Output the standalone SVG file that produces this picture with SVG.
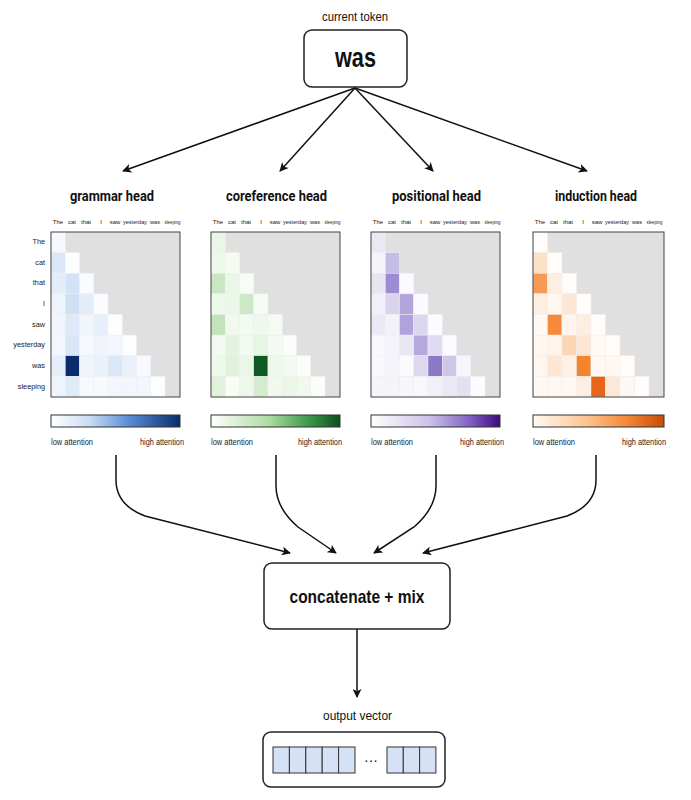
<svg xmlns="http://www.w3.org/2000/svg" width="691" height="800" viewBox="0 0 691 800">
<defs>
<style>
text{font-family:"Liberation Sans","Roboto",Arial,sans-serif;fill:#111}
.t{font-family:"Roboto","Liberation Sans",sans-serif;font-weight:bold;font-size:15px;text-anchor:middle}
.cl{font-size:6px;text-anchor:middle;fill:#222}
.rl{font-size:7.3px;text-anchor:end;fill:#222}
.lg{font-size:8.5px;fill:#222}
.c{stroke:#f0f0f0;stroke-width:0.5}
.bg{fill:#e0e0e0}
.fr{fill:none;stroke:#444;stroke-width:1}
.box{fill:#fff;stroke:#222;stroke-width:1.5}
.ln{fill:none;stroke:#111;stroke-width:1.5}
.bar{stroke:#333;stroke-width:1}
.cell{fill:#d5e1f5;stroke:#333;stroke-width:1}
</style>
<marker id="ah" viewBox="0 0 10 10" refX="9" refY="5" markerWidth="10" markerHeight="9" orient="auto" markerUnits="userSpaceOnUse">
<path d="M0,0 L10,5 L0,10 L2.5,5 z" fill="#111"/>
</marker>
<linearGradient id="gB" x1="0" x2="1" y1="0" y2="0"><stop offset="0" stop-color="#ffffff"/><stop offset="0.3" stop-color="#c9dcf2"/><stop offset="0.6" stop-color="#5a8fd5"/><stop offset="1" stop-color="#082d6c"/></linearGradient>
<linearGradient id="gG" x1="0" x2="1" y1="0" y2="0"><stop offset="0" stop-color="#ffffff"/><stop offset="0.45" stop-color="#acdca4"/><stop offset="0.75" stop-color="#3f9a4b"/><stop offset="1" stop-color="#0c4f1e"/></linearGradient>
<linearGradient id="gP" x1="0" x2="1" y1="0" y2="0"><stop offset="0" stop-color="#ffffff"/><stop offset="0.45" stop-color="#cdc2e8"/><stop offset="0.75" stop-color="#8566c4"/><stop offset="1" stop-color="#3c0a7e"/></linearGradient>
<linearGradient id="gO" x1="0" x2="1" y1="0" y2="0"><stop offset="0" stop-color="#fffaf5"/><stop offset="0.4" stop-color="#fdc592"/><stop offset="0.7" stop-color="#f58b3b"/><stop offset="1" stop-color="#c84c08"/></linearGradient>
</defs>
<rect width="691" height="800" fill="#ffffff"/>

<g id="current-token">
<text x="355" y="21" font-size="12" text-anchor="middle" textLength="66" lengthAdjust="spacingAndGlyphs">current token</text>
<rect class="box" x="304" y="30" width="103" height="57" rx="8"/>
<text x="355.5" y="67" font-family="Roboto, 'Liberation Sans', sans-serif" font-weight="bold" font-size="27" text-anchor="middle" textLength="41" lengthAdjust="spacingAndGlyphs">was</text>
</g>

<g id="connectors">
<line class="ln" x1="355" y1="88" x2="123" y2="171" marker-end="url(#ah)"/>
<line class="ln" x1="355" y1="88" x2="280" y2="171" marker-end="url(#ah)"/>
<line class="ln" x1="355" y1="88" x2="433" y2="171" marker-end="url(#ah)"/>
<line class="ln" x1="355" y1="88" x2="587" y2="171" marker-end="url(#ah)"/>
<path class="ln" d="M116,455 V480 Q116,505 145,516 L290,553" marker-end="url(#ah)"/>
<path class="ln" d="M276,455 V486 Q276,508 298,527 L336,553" marker-end="url(#ah)"/>
<path class="ln" d="M436,455 V486 Q436,508 414,527 L374,553" marker-end="url(#ah)"/>
<path class="ln" d="M596,455 V480 Q596,505 567,516 L423,553" marker-end="url(#ah)"/>
<line class="ln" x1="357" y1="629" x2="357" y2="697" marker-end="url(#ah)"/>
</g>

<g id="row-labels">
<text class="rl" x="45" y="244">The</text>
<text class="rl" x="45" y="265">cat</text>
<text class="rl" x="45" y="285">that</text>
<text class="rl" x="45" y="306">I</text>
<text class="rl" x="45" y="327">saw</text>
<text class="rl" x="45" y="347">yesterday</text>
<text class="rl" x="45" y="368">was</text>
<text class="rl" x="45" y="389">sleeping</text>
</g>

<g id="grammar-head">
<text class="t" x="112" y="201" textLength="84" lengthAdjust="spacingAndGlyphs">grammar head</text>
<g transform="translate(51,232)">
<text class="cl" x="7" y="-8">The</text><text class="cl" x="21" y="-8">cat</text><text class="cl" x="35" y="-8">that</text><text class="cl" x="50" y="-8">I</text><text class="cl" x="64" y="-8">saw</text><text class="cl" x="84" y="-8" textLength="24" lengthAdjust="spacingAndGlyphs">yesterday</text><text class="cl" x="104" y="-8" textLength="10" lengthAdjust="spacingAndGlyphs">was</text><text class="cl" x="121.5" y="-8" textLength="16" lengthAdjust="spacingAndGlyphs">sleeping</text>
<rect class="bg" width="129" height="165"/>
<rect class="c" x="0" y="0" width="14.25" height="20.63" fill="#f5f9fe"/>
<rect class="c" x="0" y="20.63" width="14.25" height="20.63" fill="#dce8f7"/><rect class="c" x="14.25" y="20.63" width="14.25" height="20.63" fill="#fbfdff"/>
<rect class="c" x="0" y="41.25" width="14.25" height="20.63" fill="#e3edf9"/><rect class="c" x="14.25" y="41.25" width="14.25" height="20.63" fill="#d3e2f5"/><rect class="c" x="28.5" y="41.25" width="14.25" height="20.63" fill="#f8fbff"/>
<rect class="c" x="0" y="61.88" width="14.25" height="20.63" fill="#eef4fc"/><rect class="c" x="14.25" y="61.88" width="14.25" height="20.63" fill="#cfdff4"/><rect class="c" x="28.5" y="61.88" width="14.25" height="20.63" fill="#e3edf9"/><rect class="c" x="42.75" y="61.88" width="14.25" height="20.63" fill="#fafcff"/>
<rect class="c" x="0" y="82.5" width="14.25" height="20.63" fill="#f1f6fd"/><rect class="c" x="14.25" y="82.5" width="14.25" height="20.63" fill="#dde9f8"/><rect class="c" x="28.5" y="82.5" width="14.25" height="20.63" fill="#f1f6fd"/><rect class="c" x="42.75" y="82.5" width="14.25" height="20.63" fill="#e7f0fa"/><rect class="c" x="57" y="82.5" width="14.25" height="20.63" fill="#fbfdff"/>
<rect class="c" x="0" y="103.13" width="14.25" height="20.63" fill="#f2f7fd"/><rect class="c" x="14.25" y="103.13" width="14.25" height="20.63" fill="#d8e6f6"/><rect class="c" x="28.5" y="103.13" width="14.25" height="20.63" fill="#f6f9fe"/><rect class="c" x="42.75" y="103.13" width="14.25" height="20.63" fill="#f0f5fc"/><rect class="c" x="57" y="103.13" width="14.25" height="20.63" fill="#f3f7fd"/><rect class="c" x="71.25" y="103.13" width="14.25" height="20.63" fill="#fbfdff"/>
<rect class="c" x="0" y="123.75" width="14.25" height="20.63" fill="#e6eff9"/><rect class="c" x="14.25" y="123.75" width="14.25" height="20.63" fill="#0a2d6b"/><rect class="c" x="28.5" y="123.75" width="14.25" height="20.63" fill="#f0f5fc"/><rect class="c" x="42.75" y="123.75" width="14.25" height="20.63" fill="#eaf1fb"/><rect class="c" x="57" y="123.75" width="14.25" height="20.63" fill="#dae7f7"/><rect class="c" x="71.25" y="123.75" width="14.25" height="20.63" fill="#e8f0fa"/><rect class="c" x="85.5" y="123.75" width="14.25" height="20.63" fill="#f7faff"/>
<rect class="c" x="0" y="144.38" width="14.25" height="20.63" fill="#eef4fc"/><rect class="c" x="14.25" y="144.38" width="14.25" height="20.63" fill="#e0ebf8"/><rect class="c" x="28.5" y="144.38" width="14.25" height="20.63" fill="#f6f9fe"/><rect class="c" x="42.75" y="144.38" width="14.25" height="20.63" fill="#f6f9fe"/><rect class="c" x="57" y="144.38" width="14.25" height="20.63" fill="#f3f7fd"/><rect class="c" x="71.25" y="144.38" width="14.25" height="20.63" fill="#f3f7fd"/><rect class="c" x="85.5" y="144.38" width="14.25" height="20.63" fill="#f3f7fd"/><rect class="c" x="99.75" y="144.38" width="14.25" height="20.63" fill="#fbfdff"/>
<rect class="fr" width="129" height="165"/>
<rect class="bar" x="0" y="183" width="129" height="12" fill="url(#gB)"/>
<text class="lg" x="0" y="213" textLength="42" lengthAdjust="spacingAndGlyphs">low attention</text>
<text class="lg" x="133" y="213" text-anchor="end" textLength="44" lengthAdjust="spacingAndGlyphs">high attention</text>
</g>
</g>

<g id="coreference-head">
<text class="t" x="276.5" y="201" textLength="101" lengthAdjust="spacingAndGlyphs">coreference head</text>
<g transform="translate(211,232)">
<text class="cl" x="7" y="-8">The</text><text class="cl" x="21" y="-8">cat</text><text class="cl" x="35" y="-8">that</text><text class="cl" x="50" y="-8">I</text><text class="cl" x="64" y="-8">saw</text><text class="cl" x="84" y="-8" textLength="24" lengthAdjust="spacingAndGlyphs">yesterday</text><text class="cl" x="104" y="-8" textLength="10" lengthAdjust="spacingAndGlyphs">was</text><text class="cl" x="121.5" y="-8" textLength="16" lengthAdjust="spacingAndGlyphs">sleeping</text>
<rect class="bg" width="129" height="165"/>
<rect class="c" x="0" y="0" width="14.25" height="20.63" fill="#eaf6e6"/>
<rect class="c" x="0" y="20.63" width="14.25" height="20.63" fill="#eef8eb"/><rect class="c" x="14.25" y="20.63" width="14.25" height="20.63" fill="#f5fbf3"/>
<rect class="c" x="0" y="41.25" width="14.25" height="20.63" fill="#c9e7c2"/><rect class="c" x="14.25" y="41.25" width="14.25" height="20.63" fill="#eaf6e6"/><rect class="c" x="28.5" y="41.25" width="14.25" height="20.63" fill="#f7fcf5"/>
<rect class="c" x="0" y="61.88" width="14.25" height="20.63" fill="#eef8eb"/><rect class="c" x="14.25" y="61.88" width="14.25" height="20.63" fill="#ecf7e9"/><rect class="c" x="28.5" y="61.88" width="14.25" height="20.63" fill="#cce8c5"/><rect class="c" x="42.75" y="61.88" width="14.25" height="20.63" fill="#f5fbf3"/>
<rect class="c" x="0" y="82.5" width="14.25" height="20.63" fill="#c2e4ba"/><rect class="c" x="14.25" y="82.5" width="14.25" height="20.63" fill="#f1f9ef"/><rect class="c" x="28.5" y="82.5" width="14.25" height="20.63" fill="#f3faf1"/><rect class="c" x="42.75" y="82.5" width="14.25" height="20.63" fill="#eef8eb"/><rect class="c" x="57" y="82.5" width="14.25" height="20.63" fill="#f5fbf3"/>
<rect class="c" x="0" y="103.13" width="14.25" height="20.63" fill="#f3faf1"/><rect class="c" x="14.25" y="103.13" width="14.25" height="20.63" fill="#e3f3df"/><rect class="c" x="28.5" y="103.13" width="14.25" height="20.63" fill="#f3faf1"/><rect class="c" x="42.75" y="103.13" width="14.25" height="20.63" fill="#e7f5e3"/><rect class="c" x="57" y="103.13" width="14.25" height="20.63" fill="#f3faf1"/><rect class="c" x="71.25" y="103.13" width="14.25" height="20.63" fill="#fafdf9"/>
<rect class="c" x="0" y="123.75" width="14.25" height="20.63" fill="#eef8eb"/><rect class="c" x="14.25" y="123.75" width="14.25" height="20.63" fill="#e0f2dc"/><rect class="c" x="28.5" y="123.75" width="14.25" height="20.63" fill="#eaf6e6"/><rect class="c" x="42.75" y="123.75" width="14.25" height="20.63" fill="#0e5a22"/><rect class="c" x="57" y="123.75" width="14.25" height="20.63" fill="#eef8eb"/><rect class="c" x="71.25" y="123.75" width="14.25" height="20.63" fill="#f3faf1"/><rect class="c" x="85.5" y="123.75" width="14.25" height="20.63" fill="#fafdf9"/>
<rect class="c" x="0" y="144.38" width="14.25" height="20.63" fill="#e0f2dc"/><rect class="c" x="14.25" y="144.38" width="14.25" height="20.63" fill="#f7fcf5"/><rect class="c" x="28.5" y="144.38" width="14.25" height="20.63" fill="#edf7ea"/><rect class="c" x="42.75" y="144.38" width="14.25" height="20.63" fill="#d3ecce"/><rect class="c" x="57" y="144.38" width="14.25" height="20.63" fill="#f1f9ef"/><rect class="c" x="71.25" y="144.38" width="14.25" height="20.63" fill="#eaf6e6"/><rect class="c" x="85.5" y="144.38" width="14.25" height="20.63" fill="#f1f9ef"/><rect class="c" x="99.75" y="144.38" width="14.25" height="20.63" fill="#fafdf9"/>
<rect class="fr" width="129" height="165"/>
<rect class="bar" x="0" y="183" width="129" height="12" fill="url(#gG)"/>
<text class="lg" x="0" y="213" textLength="42" lengthAdjust="spacingAndGlyphs">low attention</text>
<text class="lg" x="131" y="213" text-anchor="end" textLength="44" lengthAdjust="spacingAndGlyphs">high attention</text>
</g>
</g>

<g id="positional-head">
<text class="t" x="436.5" y="201" textLength="89" lengthAdjust="spacingAndGlyphs">positional head</text>
<g transform="translate(371,232)">
<text class="cl" x="7" y="-8">The</text><text class="cl" x="21" y="-8">cat</text><text class="cl" x="35" y="-8">that</text><text class="cl" x="50" y="-8">I</text><text class="cl" x="64" y="-8">saw</text><text class="cl" x="84" y="-8" textLength="24" lengthAdjust="spacingAndGlyphs">yesterday</text><text class="cl" x="104" y="-8" textLength="10" lengthAdjust="spacingAndGlyphs">was</text><text class="cl" x="121.5" y="-8" textLength="16" lengthAdjust="spacingAndGlyphs">sleeping</text>
<rect class="bg" width="129" height="165"/>
<rect class="c" x="0" y="0" width="14.25" height="20.63" fill="#ebe8f5"/>
<rect class="c" x="0" y="20.63" width="14.25" height="20.63" fill="#f5f4fa"/><rect class="c" x="14.25" y="20.63" width="14.25" height="20.63" fill="#c6bde6"/>
<rect class="c" x="0" y="41.25" width="14.25" height="20.63" fill="#e8e5f3"/><rect class="c" x="14.25" y="41.25" width="14.25" height="20.63" fill="#9d8cd1"/><rect class="c" x="28.5" y="41.25" width="14.25" height="20.63" fill="#fbfaff"/>
<rect class="c" x="0" y="61.88" width="14.25" height="20.63" fill="#f1eff8"/><rect class="c" x="14.25" y="61.88" width="14.25" height="20.63" fill="#d9d3ee"/><rect class="c" x="28.5" y="61.88" width="14.25" height="20.63" fill="#b3a6dc"/><rect class="c" x="42.75" y="61.88" width="14.25" height="20.63" fill="#fbfaff"/>
<rect class="c" x="0" y="82.5" width="14.25" height="20.63" fill="#ece9f6"/><rect class="c" x="14.25" y="82.5" width="14.25" height="20.63" fill="#f3f1f9"/><rect class="c" x="28.5" y="82.5" width="14.25" height="20.63" fill="#b0a3dc"/><rect class="c" x="42.75" y="82.5" width="14.25" height="20.63" fill="#dcd6ef"/><rect class="c" x="57" y="82.5" width="14.25" height="20.63" fill="#fcfbff"/>
<rect class="c" x="0" y="103.13" width="14.25" height="20.63" fill="#f9f8fd"/><rect class="c" x="14.25" y="103.13" width="14.25" height="20.63" fill="#f5f4fa"/><rect class="c" x="28.5" y="103.13" width="14.25" height="20.63" fill="#e9e6f4"/><rect class="c" x="42.75" y="103.13" width="14.25" height="20.63" fill="#b4a8dd"/><rect class="c" x="57" y="103.13" width="14.25" height="20.63" fill="#e0dbf1"/><rect class="c" x="71.25" y="103.13" width="14.25" height="20.63" fill="#fcfbff"/>
<rect class="c" x="0" y="123.75" width="14.25" height="20.63" fill="#f9f8fd"/><rect class="c" x="14.25" y="123.75" width="14.25" height="20.63" fill="#f5f4fa"/><rect class="c" x="28.5" y="123.75" width="14.25" height="20.63" fill="#fbfaff"/><rect class="c" x="42.75" y="123.75" width="14.25" height="20.63" fill="#ddd8f0"/><rect class="c" x="57" y="123.75" width="14.25" height="20.63" fill="#8c77c9"/><rect class="c" x="71.25" y="123.75" width="14.25" height="20.63" fill="#cfc6ea"/><rect class="c" x="85.5" y="123.75" width="14.25" height="20.63" fill="#f7f6fc"/>
<rect class="c" x="0" y="144.38" width="14.25" height="20.63" fill="#f5f4fa"/><rect class="c" x="14.25" y="144.38" width="14.25" height="20.63" fill="#f5f4fa"/><rect class="c" x="28.5" y="144.38" width="14.25" height="20.63" fill="#f7f6fc"/><rect class="c" x="42.75" y="144.38" width="14.25" height="20.63" fill="#f8f7fc"/><rect class="c" x="57" y="144.38" width="14.25" height="20.63" fill="#f1eff8"/><rect class="c" x="71.25" y="144.38" width="14.25" height="20.63" fill="#ebe8f5"/><rect class="c" x="85.5" y="144.38" width="14.25" height="20.63" fill="#e4e0f2"/><rect class="c" x="99.75" y="144.38" width="14.25" height="20.63" fill="#fcfbff"/>
<rect class="fr" width="129" height="165"/>
<rect class="bar" x="0" y="183" width="129" height="12" fill="url(#gP)"/>
<text class="lg" x="0" y="213" textLength="42" lengthAdjust="spacingAndGlyphs">low attention</text>
<text class="lg" x="133" y="213" text-anchor="end" textLength="44" lengthAdjust="spacingAndGlyphs">high attention</text>
</g>
</g>

<g id="induction-head">
<text class="t" x="596" y="201" textLength="82" lengthAdjust="spacingAndGlyphs">induction head</text>
<g transform="translate(533,232)">
<text class="cl" x="7" y="-8">The</text><text class="cl" x="21" y="-8">cat</text><text class="cl" x="35" y="-8">that</text><text class="cl" x="50" y="-8">I</text><text class="cl" x="64" y="-8">saw</text><text class="cl" x="84" y="-8" textLength="24" lengthAdjust="spacingAndGlyphs">yesterday</text><text class="cl" x="104" y="-8" textLength="10" lengthAdjust="spacingAndGlyphs">was</text><text class="cl" x="121.5" y="-8" textLength="16" lengthAdjust="spacingAndGlyphs">sleeping</text>
<rect class="bg" width="131" height="165"/>
<rect class="c" x="0" y="0" width="14.5" height="20.63" fill="#fffcf9"/>
<rect class="c" x="0" y="20.63" width="14.5" height="20.63" fill="#fde0c8"/><rect class="c" x="14.5" y="20.63" width="14.5" height="20.63" fill="#fffcfa"/>
<rect class="c" x="0" y="41.25" width="14.5" height="20.63" fill="#f79a55"/><rect class="c" x="14.5" y="41.25" width="14.5" height="20.63" fill="#fdeee2"/><rect class="c" x="29" y="41.25" width="14.5" height="20.63" fill="#fffcfa"/>
<rect class="c" x="0" y="61.88" width="14.5" height="20.63" fill="#fdeee2"/><rect class="c" x="14.5" y="61.88" width="14.5" height="20.63" fill="#fff6ef"/><rect class="c" x="29" y="61.88" width="14.5" height="20.63" fill="#fde6d3"/><rect class="c" x="43.5" y="61.88" width="14.5" height="20.63" fill="#fffcfa"/>
<rect class="c" x="0" y="82.5" width="14.5" height="20.63" fill="#fff8f2"/><rect class="c" x="14.5" y="82.5" width="14.5" height="20.63" fill="#f58a3c"/><rect class="c" x="29" y="82.5" width="14.5" height="20.63" fill="#fff5ec"/><rect class="c" x="43.5" y="82.5" width="14.5" height="20.63" fill="#fdeee2"/><rect class="c" x="58" y="82.5" width="14.5" height="20.63" fill="#fffcfa"/>
<rect class="c" x="0" y="103.13" width="14.5" height="20.63" fill="#fff6ef"/><rect class="c" x="14.5" y="103.13" width="14.5" height="20.63" fill="#fff3ea"/><rect class="c" x="29" y="103.13" width="14.5" height="20.63" fill="#fcd5b5"/><rect class="c" x="43.5" y="103.13" width="14.5" height="20.63" fill="#fde6d3"/><rect class="c" x="58" y="103.13" width="14.5" height="20.63" fill="#fffaf5"/><rect class="c" x="72.5" y="103.13" width="14.5" height="20.63" fill="#fffcfa"/>
<rect class="c" x="0" y="123.75" width="14.5" height="20.63" fill="#fff6ef"/><rect class="c" x="14.5" y="123.75" width="14.5" height="20.63" fill="#fde6d3"/><rect class="c" x="29" y="123.75" width="14.5" height="20.63" fill="#fff0e4"/><rect class="c" x="43.5" y="123.75" width="14.5" height="20.63" fill="#f4852f"/><rect class="c" x="58" y="123.75" width="14.5" height="20.63" fill="#fff8f2"/><rect class="c" x="72.5" y="123.75" width="14.5" height="20.63" fill="#fff8f2"/><rect class="c" x="87" y="123.75" width="14.5" height="20.63" fill="#fffcfa"/>
<rect class="c" x="0" y="144.38" width="14.5" height="20.63" fill="#fff8f2"/><rect class="c" x="14.5" y="144.38" width="14.5" height="20.63" fill="#fff8f2"/><rect class="c" x="29" y="144.38" width="14.5" height="20.63" fill="#fff8f2"/><rect class="c" x="43.5" y="144.38" width="14.5" height="20.63" fill="#fdeee2"/><rect class="c" x="58" y="144.38" width="14.5" height="20.63" fill="#e8641a"/><rect class="c" x="72.5" y="144.38" width="14.5" height="20.63" fill="#fde8d8"/><rect class="c" x="87" y="144.38" width="14.5" height="20.63" fill="#fff8f2"/><rect class="c" x="101.5" y="144.38" width="14.5" height="20.63" fill="#fffcfa"/>
<rect class="fr" width="131" height="165"/>
<rect class="bar" x="0" y="183" width="131" height="12" fill="url(#gO)"/>
<text class="lg" x="0" y="213" textLength="42" lengthAdjust="spacingAndGlyphs">low attention</text>
<text class="lg" x="133" y="213" text-anchor="end" textLength="44" lengthAdjust="spacingAndGlyphs">high attention</text>
</g>
</g>

<g id="concatenate-mix">
<rect class="box" x="264" y="563" width="186" height="66" rx="8"/>
<text x="357" y="603" font-family="Roboto, 'Liberation Sans', sans-serif" font-weight="bold" font-size="19" text-anchor="middle" textLength="135" lengthAdjust="spacingAndGlyphs">concatenate + mix</text>
</g>

<g id="output-vector">
<text x="357.5" y="720" font-size="12.5" text-anchor="middle" textLength="69" lengthAdjust="spacingAndGlyphs">output vector</text>
<rect class="box" x="263" y="732" width="182" height="55" rx="8"/>
<rect class="cell" x="273" y="747" width="16.4" height="26"/>
<rect class="cell" x="289.4" y="747" width="16.4" height="26"/>
<rect class="cell" x="305.8" y="747" width="16.4" height="26"/>
<rect class="cell" x="322.2" y="747" width="16.4" height="26"/>
<rect class="cell" x="338.6" y="747" width="16.4" height="26"/>
<text x="371" y="765" font-size="14" text-anchor="middle">···</text>
<rect class="cell" x="387" y="747" width="16.3" height="26"/>
<rect class="cell" x="403.3" y="747" width="16.3" height="26"/>
<rect class="cell" x="419.6" y="747" width="16.3" height="26"/>
</g>
</svg>
